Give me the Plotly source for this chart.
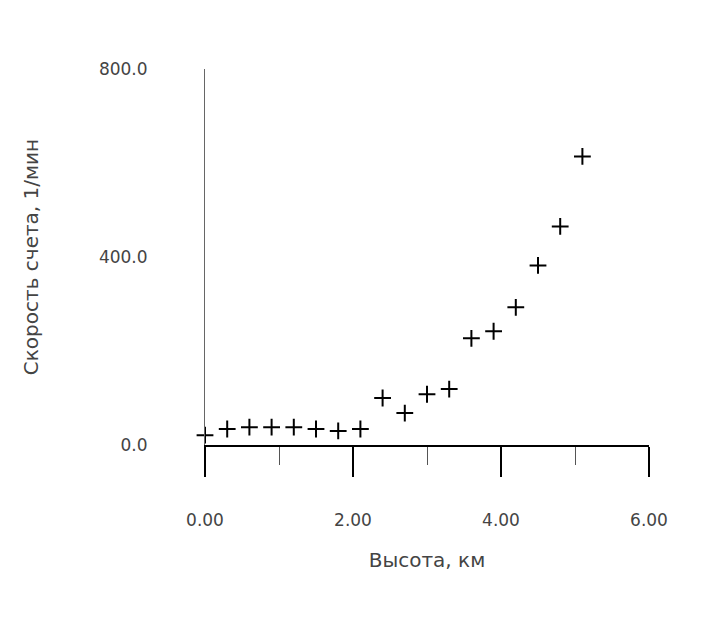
import plotly.graph_objects as go

# Height (km) and count rate (1/min)
height_km = [0.0, 0.3, 0.6, 0.9, 1.2, 1.5, 1.8, 2.1, 2.4, 2.7, 3.0, 3.3, 3.6, 3.9, 4.2, 4.5, 4.8, 5.1]
count_rate = [21, 34, 38, 38, 38, 34, 30, 34, 100, 68, 108, 119, 227, 242, 293, 382, 465, 614]

x_ticks = [0, 2, 4, 6]
x_labels = ["0.00", "2.00", "4.00", "6.00"]
y_ticks = [0, 400, 800]
y_labels = ["0.0", "400.0", "800.0"]

fig = go.Figure()

fig.add_trace(go.Scatter(
    x=height_km, y=count_rate, mode="markers", cliponaxis=False,
    marker=dict(symbol="cross-thin", size=12, line=dict(color="black", width=2)),
    showlegend=False,
))

fig.update_xaxes(
    range=[0, 6], tickvals=x_ticks, ticktext=x_labels, automargin=False,
    showgrid=False, zeroline=False, showline=True, linecolor="black", linewidth=2,
    ticks="outside", ticklen=30, tickwidth=2, tickcolor="black",
    minor=dict(dtick=1, ticks="outside", ticklen=18, tickwidth=1, tickcolor="#555"),
    ticklabelstandoff=29,
    title=dict(text="Высота, км", standoff=24),
)
fig.update_yaxes(
    range=[0, 800], tickvals=y_ticks, ticktext=y_labels, automargin=False,
    showgrid=False, zeroline=False, showline=True, linecolor="#666", linewidth=1,
    ticks="", ticklabelstandoff=53,
    title=dict(text="Скорость счета, 1/мин", standoff=54),
)

fig.update_layout(
    width=714, height=618,
    margin=dict(l=197, r=73, t=61, b=181),
    plot_bgcolor="white", paper_bgcolor="white",
    font=dict(family="DejaVu Sans", size=17, color="#444"),
)

fig.write_html("out.html")
